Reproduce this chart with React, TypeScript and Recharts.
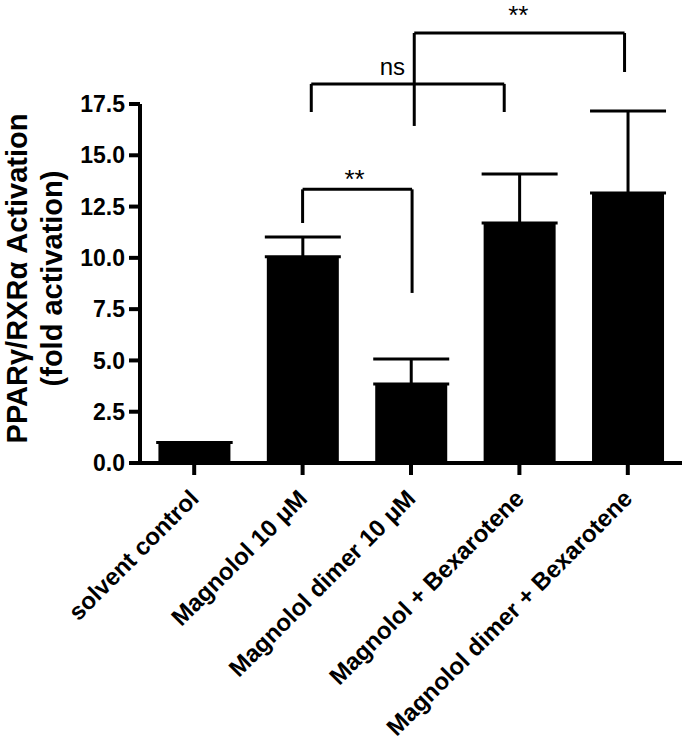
import React from 'react';
import {
  BarChart,
  Bar,
  XAxis,
  YAxis,
  ErrorBar,
  ReferenceLine,
  ReferenceDot,
} from 'recharts';

const groups = [
  'solvent control',
  'Magnolol 10 μM',
  'Magnolol dimer 10 μM',
  'Magnolol + Bexarotene',
  'Magnolol dimer + Bexarotene',
];
const means = [1.0, 10.06, 3.85, 11.7, 13.16];
const upperErr = [0, 0.96, 1.22, 2.39, 4.0];
const yTicks = [0, 2.5, 5, 7.5, 10, 12.5, 15, 17.5];

// significance brackets, as [group position, fold] points (group i is centred at i + 0.5)
const brackets = [
  [[1.5, 11.7], [1.5, 13.34], [2.51, 13.34], [2.51, 8.29]],
  [[1.58, 17.11], [1.58, 18.48], [3.36, 18.48], [3.36, 17.11]],
  [[2.53, 16.43], [2.53, 20.96], [4.47, 20.96], [4.47, 19.06]],
];
const starMarks = [
  { x: 1.98, y: 13.41, text: '**' },
  { x: 3.49, y: 21.38, text: '**' },
];
const nsMark = { x: 2.445, y: 18.91, text: 'ns' };

const data = groups.map((g, i) => ({
  group: g,
  pos: i + 0.5,
  fold: means[i],
  err: [0, upperErr[i]],
}));

const FONT = '"Liberation Sans", Arial, Helvetica, sans-serif';

const XTick = (props: any) => {
  const { x, y, payload } = props;
  return (
    <g transform={`translate(${x + 6},${y + 25}) rotate(-45)`}>
      <text x={0} y={0} textAnchor="end" fontSize={24} fontWeight="bold" fontFamily={FONT} fill="#000">
        {payload.value}
      </text>
    </g>
  );
};

const YTitle = (props: any) => {
  const vb = props.viewBox || { y: 104, height: 359 };
  const cy = vb.y + vb.height / 2 - 5;
  return (
    <g fontFamily={FONT} fontWeight="bold" fontSize={29} fill="#000">
      <text transform={`translate(27,${cy}) rotate(-90)`} textAnchor="middle">
        PPARγ/RXRα Activation
      </text>
      <text transform={`translate(62,${cy}) rotate(-90)`} textAnchor="middle">
        (fold activation)
      </text>
    </g>
  );
};

export default function App() {
  return (
    <div style={{ width: 685, height: 745, background: '#fff' }}>
      <style>{'body{margin:0}'}</style>
      <BarChart
        width={685}
        height={745}
        data={data}
        margin={{ top: 104, right: 3, left: 0, bottom: 0 }}
        barCategoryGap="17%"
      >
        <XAxis
          dataKey="group"
          height={282}
          axisLine={{ stroke: '#000', strokeWidth: 4 }}
          tickLine={{ stroke: '#000', strokeWidth: 4 }}
          tickSize={12}
          tickMargin={0}
          interval={0}
          tick={<XTick />}
        />
        <XAxis
          xAxisId="pos"
          dataKey="pos"
          type="number"
          domain={[0, 5]}
          allowDataOverflow
          padding={{ left: 0, right: 0 }}
          hide
        />
        <YAxis
          width={140}
          domain={[0, 17.5]}
          ticks={yTicks}
          interval={0}
          tickFormatter={(v: number) => v.toFixed(1)}
          axisLine={{ stroke: '#000', strokeWidth: 4 }}
          tickLine={{ stroke: '#000', strokeWidth: 4 }}
          tickSize={11}
          tickMargin={4}
          tick={{ fontSize: 23, fontWeight: 'bold', fontFamily: FONT, fill: '#000' }}
          label={{ content: (p: any) => <YTitle {...p} /> }}
        />
        <Bar dataKey="fold" fill="#000" isAnimationActive={false}>
          <ErrorBar dataKey="err" direction="y" width={38} stroke="#000" strokeWidth={3} />
        </Bar>
        {brackets.map((pts, bi) =>
          pts.slice(1).map((pt, si) => (
            <ReferenceLine
              key={`b${bi}-${si}`}
              xAxisId="pos"
              segment={[
                { x: pts[si][0], y: pts[si][1] },
                { x: pt[0], y: pt[1] },
              ]}
              stroke="#000"
              strokeWidth={3}
              ifOverflow="visible"
            />
          ))
        )}
        {starMarks.map((m, i) => (
          <ReferenceDot
            key={`s${i}`}
            xAxisId="pos"
            x={m.x}
            y={m.y}
            r={0}
            ifOverflow="visible"
            shape={(p: any) => (
              <text x={p.cx} y={p.cy} textAnchor="middle" fontSize={26} fontFamily={FONT} fill="#000">
                {m.text}
              </text>
            )}
          />
        ))}
        <ReferenceDot
          xAxisId="pos"
          x={nsMark.x}
          y={nsMark.y}
          r={0}
          ifOverflow="visible"
          shape={(p: any) => (
            <text x={p.cx} y={p.cy} textAnchor="end" fontSize={24} fontFamily={FONT} fill="#000">
              {nsMark.text}
            </text>
          )}
        />
      </BarChart>
    </div>
  );
}
